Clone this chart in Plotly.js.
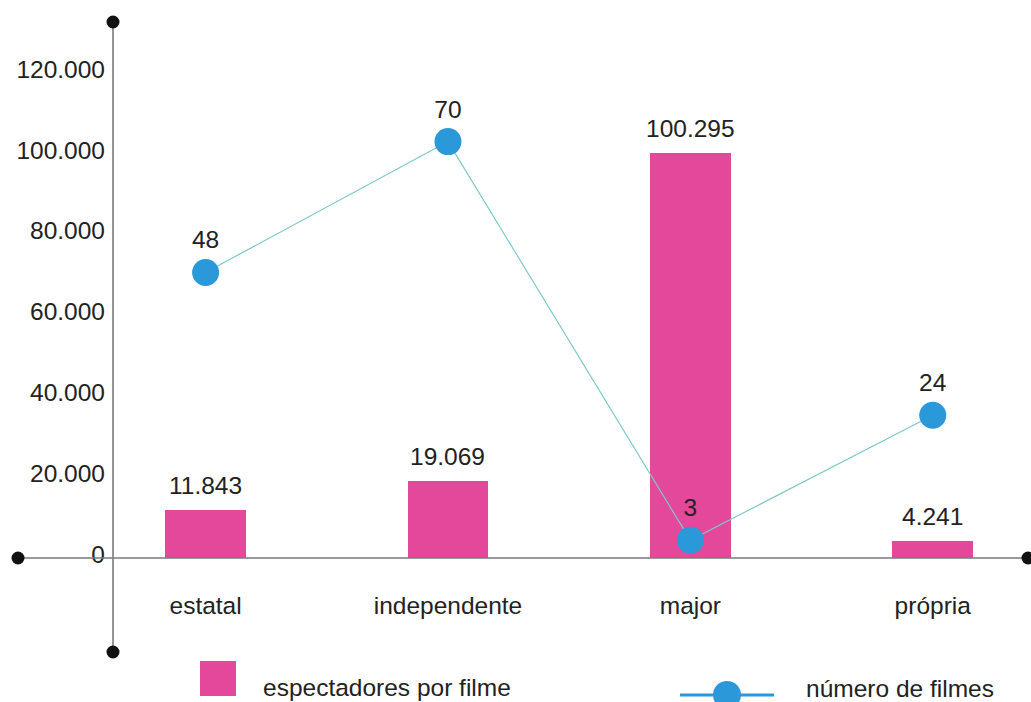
<!DOCTYPE html>
<html><head><meta charset="utf-8">
<script src="https://cdn.plot.ly/plotly-3.0.1.min.js"></script>
<style>html,body{margin:0;padding:0;background:#fff}#chart{width:1031px;height:702px}</style>
</head><body><div id="chart"></div>
<script>
// ---- data ----
const categories = ["estatal", "independente", "major", "própria"];
const espectadores = [11843, 19069, 100295, 4241];
const espectadoresLabels = ["11.843", "19.069", "100.295", "4.241"];
const numeroFilmes = [48, 70, 3, 24];
const yTickVals = [0, 20000, 40000, 60000, 80000, 100000, 120000];
const yTickText = ["0", "20.000", "40.000", "60.000", "80.000", "100.000", "120.000"];
const legendNames = ["espectadores por filme", "número de filmes"];

// ---- style / layout ----
const PINK = "#e3489b", BLUE = "#2b98da", LINE = "#7fc9c9", AX = "#7a7a7a", TXT = "#222222";
const FONT = "Liberation Sans, Arial, sans-serif";
const FS = 24.5;
const W = 1031, H = 702, mL = 18, mR = 3, mT = 22, mB = 50;
const pw = W - mL - mR, ph = H - mT - mB;
const yRange = [-23267, 132673], y2Range = [-15.8, 90.1], xRange = [-0.774, 3.393];
const zeroFrac = (0 - yRange[0]) / (yRange[1] - yRange[0]);
const yAxisFrac = (113 - mL) / pw;
const px = x => (x - mL) / pw;          // pixel -> paper x
const py = y => (H - mB - y) / ph;      // pixel -> paper y

function dot(xf, yf, r) {
  return {type: "circle", xref: "paper", yref: "paper",
    xsizemode: "pixel", ysizemode: "pixel", xanchor: xf, yanchor: yf,
    x0: -r, x1: r, y0: -r, y1: r, fillcolor: "#111", line: {width: 0}, layer: "above"};
}

const traces = [
  {type: "bar", x: categories, y: espectadores, width: 0.334,
   marker: {color: PINK}, hoverinfo: "none", showlegend: false},
  {type: "scatter", x: categories, y: numeroFilmes, yaxis: "y2",
   mode: "lines+markers+text", text: numeroFilmes.map(String), textposition: "top center",
   textfont: {family: FONT, size: FS, color: TXT}, cliponaxis: false,
   line: {color: LINE, width: 1.2}, marker: {color: BLUE, size: 27},
   hoverinfo: "none", showlegend: false}
];

const annotations = categories.map((c, i) => ({
  x: c, y: espectadores[i], xref: "x", yref: "y", text: espectadoresLabels[i],
  showarrow: false, yanchor: "bottom", yshift: 9,
  font: {family: FONT, size: FS, color: TXT}
}));
annotations.push({xref: "paper", yref: "paper", x: px(261), y: py(687), xanchor: "left", yanchor: "middle",
  text: legendNames[0], showarrow: false, font: {family: FONT, size: FS, color: TXT}});
annotations.push({xref: "paper", yref: "paper", x: px(804), y: py(688), xanchor: "left", yanchor: "middle",
  text: legendNames[1], showarrow: false, font: {family: FONT, size: FS, color: TXT}});

const shapes = [
  {type: "line", xref: "paper", yref: "paper", x0: 0, x1: 1, y0: zeroFrac, y1: zeroFrac,
   line: {color: AX, width: 1.6}, layer: "above"},
  {type: "line", xref: "paper", yref: "paper", x0: yAxisFrac, x1: yAxisFrac, y0: 0, y1: 1,
   line: {color: AX, width: 1.6}, layer: "above"},
  dot(0, zeroFrac, 6.5), dot(1, zeroFrac, 6.5), dot(yAxisFrac, 0, 6.5), dot(yAxisFrac, 1, 6.5),
  // legend symbols
  {type: "rect", xref: "paper", yref: "paper", x0: px(200), x1: px(236), y0: py(696), y1: py(661),
   fillcolor: PINK, line: {width: 0}},
  {type: "line", xref: "paper", yref: "paper", x0: px(680), x1: px(774), y0: py(695), y1: py(695),
   line: {color: BLUE, width: 3}},
  {type: "circle", xref: "paper", yref: "paper", x0: px(713), x1: px(741), y0: py(709), y1: py(681),
   fillcolor: BLUE, line: {width: 0}}
];

const layout = {
  width: W, height: H, margin: {l: mL, r: mR, t: mT, b: mB},
  paper_bgcolor: "#fff", plot_bgcolor: "#fff",
  font: {family: FONT, size: FS, color: TXT},
  showlegend: false, bargap: 0,
  xaxis: {type: "category", range: xRange, anchor: "free", position: zeroFrac,
    showline: false, showgrid: false, zeroline: false, ticks: "",
    ticklabelstandoff: 30, tickfont: {family: FONT, size: FS, color: TXT}, fixedrange: true},
  yaxis: {range: yRange, anchor: "free", position: yAxisFrac, showline: false, showgrid: false,
    zeroline: false, ticks: "", tickmode: "array", tickvals: yTickVals, ticktext: yTickText,
    ticklabelstandoff: 8, ticklabelshift: -4,
    tickfont: {family: FONT, size: FS, color: TXT}, fixedrange: true},
  yaxis2: {range: y2Range, overlaying: "y", side: "right", visible: false, fixedrange: true},
  annotations: annotations, shapes: shapes
};

Plotly.newPlot("chart", traces, layout, {displayModeBar: false, staticPlot: true});
</script>
</body></html>
